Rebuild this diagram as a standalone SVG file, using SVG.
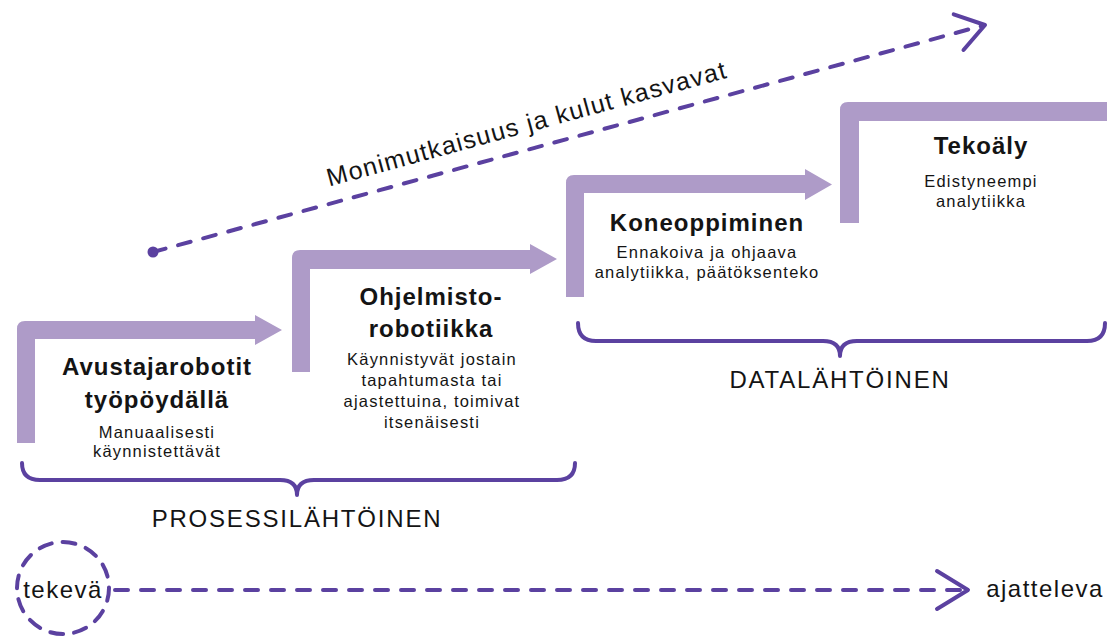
<svg xmlns="http://www.w3.org/2000/svg" width="1110" height="637" viewBox="0 0 1110 637">
<style>
.step{fill:#ae9bc8}
.t{font-family:"Liberation Sans",Arial,sans-serif;fill:#141414;text-anchor:middle}
.title{font-size:24px;font-weight:bold;letter-spacing:1px}
.sub{font-size:16.5px;letter-spacing:1.2px}
.cat{font-size:24px;letter-spacing:1.8px}
.lbl{font-size:24px;letter-spacing:1.5px}
.big{font-size:25px;letter-spacing:1.3px}
.dash{fill:none;stroke:#5b41a0;stroke-width:4;stroke-linecap:round;stroke-dasharray:13 13}
.solid{fill:none;stroke:#5b41a0;stroke-width:4;stroke-linecap:round;stroke-linejoin:round}
</style>
<rect width="1110" height="637" fill="#fff"/>
<g id="step1">
<path class="step" d="M17,443 L17,329 Q17,321 25,321 L255,321 L255,315 L282,330 L255,345 L255,339 L35,339 L35,443 Z"/>
<text class="t title" x="157" y="375">Avustajarobotit</text>
<text class="t title" x="157" y="408">työpöydällä</text>
<text class="t sub" x="157" y="438">Manuaalisesti</text>
<text class="t sub" x="157" y="457">käynnistettävät</text>
</g>
<g id="step2">
<path class="step" d="M292,372 L292,258 Q292,250 300,250 L530,250 L530,244 L557,259 L530,274 L530,269 L310,269 L310,372 Z"/>
<text class="t title" x="431" y="305">Ohjelmisto-</text>
<text class="t title" x="431" y="337">robotiikka</text>
<text class="t sub" x="432" y="365">Käynnistyvät jostain</text>
<text class="t sub" x="432" y="386">tapahtumasta tai</text>
<text class="t sub" x="432" y="407">ajastettuina, toimivat</text>
<text class="t sub" x="432" y="428">itsenäisesti</text>
</g>
<g id="step3">
<path class="step" d="M566,297 L566,183 Q566,175 574,175 L805,175 L805,169 L832,184.5 L805,200 L805,193 L584,193 L584,297 Z"/>
<text class="t title" x="707" y="231">Koneoppiminen</text>
<text class="t sub" x="707" y="258">Ennakoiva ja ohjaava</text>
<text class="t sub" x="707" y="278">analytiikka, päätöksenteko</text>
</g>
<g id="step4">
<path class="step" d="M840,223 L840,110 Q840,102 848,102 L1107,102 L1107,121 L859,121 L859,223 Z"/>
<text class="t title" x="981" y="154">Tekoäly</text>
<text class="t sub" x="981" y="187">Edistyneempi</text>
<text class="t sub" x="981" y="207">analytiikka</text>
</g>
<g id="connectors">
<circle cx="153" cy="252" r="5.5" fill="#5b41a0"/>
<path class="dash" d="M153,252 L983,25.5"/>
<path class="solid" d="M953.7,14.4 L985,25 L963.5,50"/>
<path class="solid" d="M22,463 Q22,480 40,480 L280,480 Q297,480 297,495 Q297,480 314,480 L557,480 Q575,480 575,463"/>
<path class="solid" d="M578,323 Q578,341 596,341 L823,341 Q840,341 840,356 Q840,341 857,341 L1087,341 Q1105,341 1105,323"/>
<path class="dash" d="M115,590 L966,590"/>
<path class="solid" d="M937,571 L968,590 L937,609"/>
</g>
<g id="complexity">
<text class="t big" x="529" y="132" transform="rotate(-15.3 529 132)">Monimutkaisuus ja kulut kasvavat</text>
</g>
<g id="categories">
<text class="t cat" x="297" y="527">PROSESSILÄHTÖINEN</text>
<text class="t cat" x="840" y="388">DATALÄHTÖINEN</text>
</g>
<g id="tekeva">
<circle cx="63" cy="588" r="46" fill="none" stroke="#5b41a0" stroke-width="4" stroke-linecap="round" stroke-dasharray="13 11"/>
<text class="t lbl" x="63" y="598">tekevä</text>
</g>
<g id="ajatteleva">
<text class="t lbl" x="1045" y="597">ajatteleva</text>
</g>
</svg>
